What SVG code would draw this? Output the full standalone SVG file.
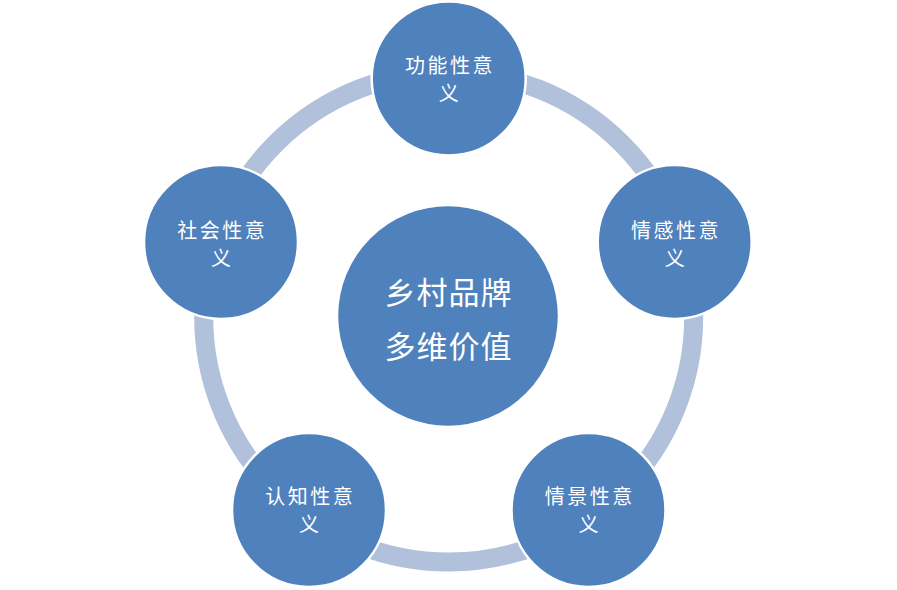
<svg xmlns="http://www.w3.org/2000/svg" width="897" height="590" viewBox="0 0 897 590">
  <style>
    .ring { fill: none; stroke: #b2c1db; stroke-width: 19; }
    .node { fill: #4f81bd; stroke: #ffffff; stroke-width: 2.5; }
    .lbl { fill: #ffffff; font-family: "Noto Sans CJK SC", "Noto Sans", sans-serif; font-size: 20px; letter-spacing: 2.5px; text-anchor: middle; dominant-baseline: central; }
    .ctr { fill: #ffffff; font-family: "Noto Sans CJK SC", "Noto Sans", sans-serif; font-size: 31px; letter-spacing: 1px; text-anchor: middle; dominant-baseline: central; }
  </style>
  <rect width="897" height="590" fill="#ffffff"/>
  <g id="connectors">
    <circle class="ring" cx="448.7" cy="317" r="245"/>
  </g>
  <g id="center">
    <circle class="node" cx="448" cy="316" r="111"/>
    <text class="ctr" x="448.5" y="290">乡村品牌</text>
    <text class="ctr" x="448.5" y="344">多维价值</text>
  </g>
  <g id="gongneng">
    <circle class="node" cx="448.7" cy="78.5" r="77"/>
    <text class="lbl" x="450" y="64.5">功能性意</text>
    <text class="lbl" x="450" y="92.5">义</text>
  </g>
  <g id="qinggan">
    <circle class="node" cx="674.7" cy="242" r="77"/>
    <text class="lbl" x="676" y="229">情感性意</text>
    <text class="lbl" x="676" y="257">义</text>
  </g>
  <g id="shehui">
    <circle class="node" cx="221" cy="242" r="77"/>
    <text class="lbl" x="222.3" y="229">社会性意</text>
    <text class="lbl" x="222.3" y="257">义</text>
  </g>
  <g id="renzhi">
    <circle class="node" cx="309" cy="510" r="77"/>
    <text class="lbl" x="310.3" y="495">认知性意</text>
    <text class="lbl" x="310.3" y="523">义</text>
  </g>
  <g id="qingjing">
    <circle class="node" cx="588.5" cy="510" r="77"/>
    <text class="lbl" x="589.8" y="495">情景性意</text>
    <text class="lbl" x="589.8" y="523">义</text>
  </g>
</svg>
